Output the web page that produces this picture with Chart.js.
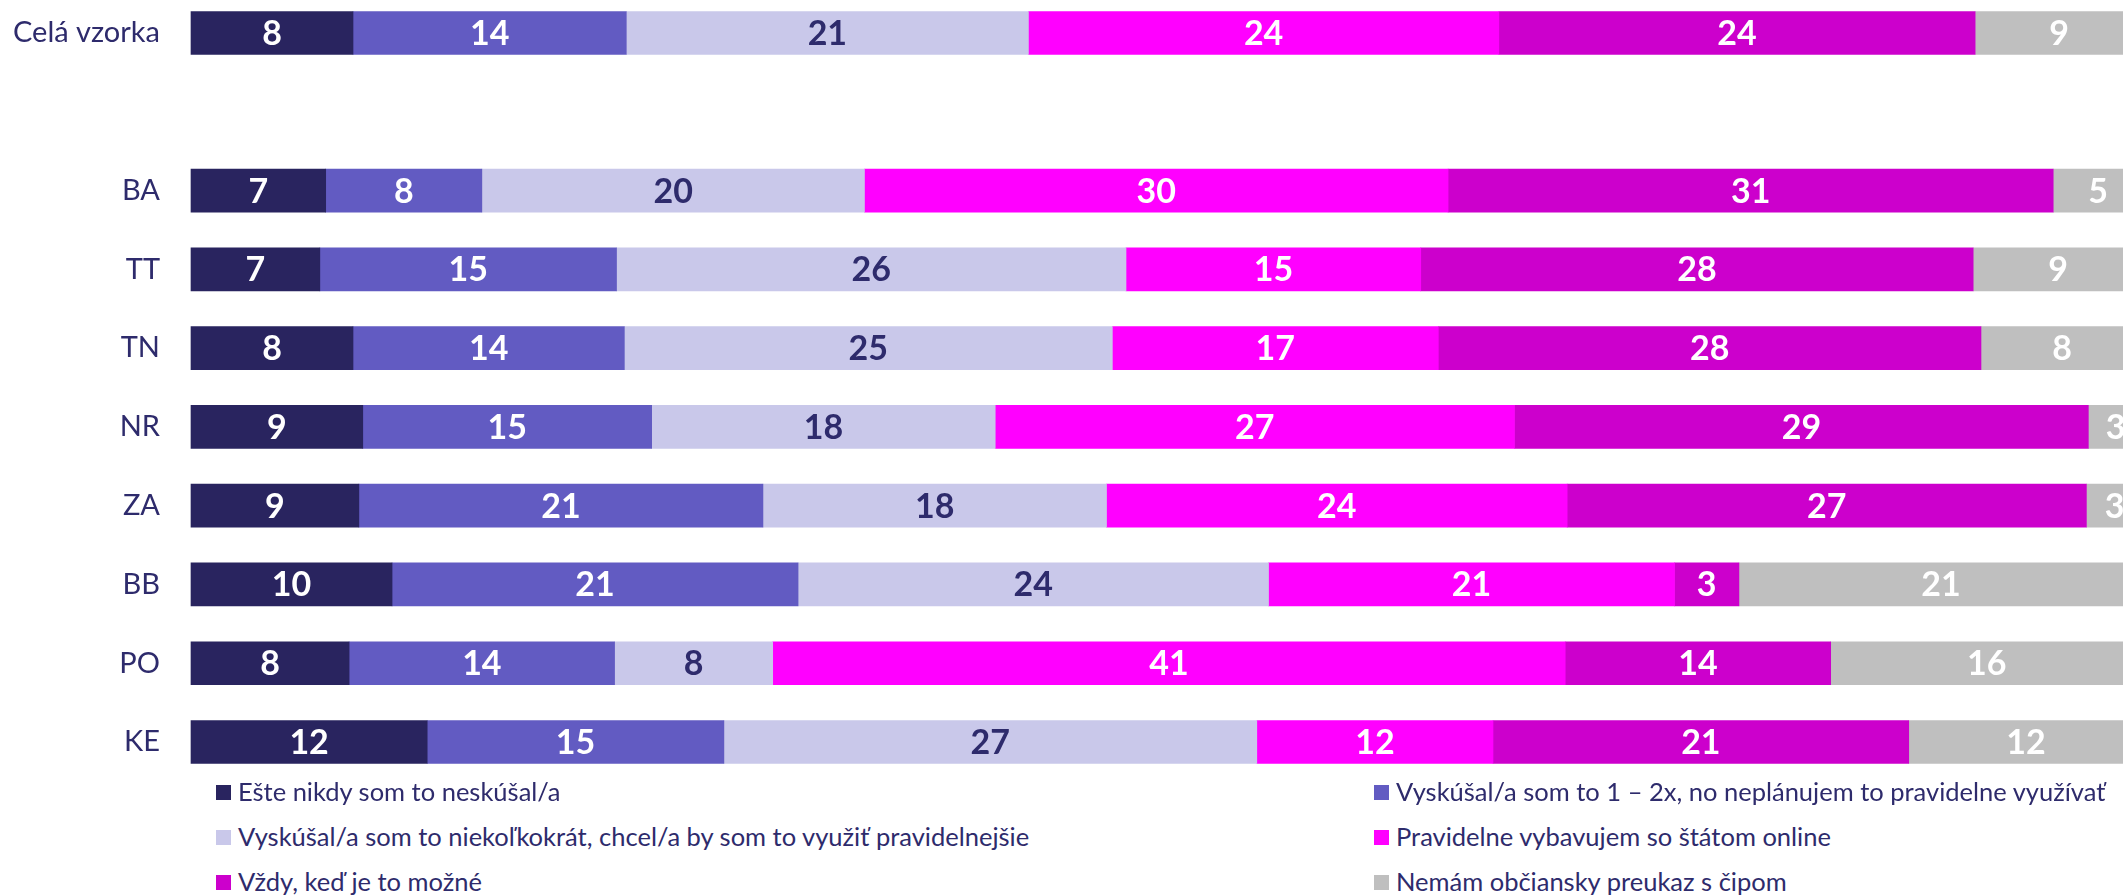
<!DOCTYPE html>
<html>
<head>
<meta charset="utf-8">
<script src="https://cdn.jsdelivr.net/npm/chart.js@4"></script>
<style>
  html, body { margin: 0; padding: 0; background: #fff; overflow: hidden; }
  body { width: 2123px; height: 895px; position: relative; font-family: Lato, "Open Sans", sans-serif; }
  #wrap { position: absolute; left: 0; top: 0; width: 2145px; height: 790px; }
  .legend-item { position: absolute; display: flex; align-items: center; color: #2e2b6c; font-size: 25.5px; white-space: nowrap; line-height: 1; }
  .legend-item span.box { width: 15px; height: 15px; margin-right: 7px; display: inline-block; }
</style>
</head>
<body>
<div id="wrap"><canvas id="chart"></canvas></div>
<div id="legend"></div>
<script>
// categories (empty slot separates the whole sample from the regions)
const categories = ["Celá vzorka", "", "BA", "TT", "TN", "NR", "ZA", "BB", "PO", "KE"];

// series values (%)
const neverTried   = [8.3,  null, 6.9,  6.6,  8.3,  8.8,  8.6,  10.3, 8.1,  12.1];
const triedOnce    = [14.0, null, 8.0,  15.2, 13.9, 14.8, 20.7, 20.8, 13.6, 15.2];
const triedSeveral = [20.6, null, 19.6, 26.1, 25.0, 17.6, 17.6, 24.1, 8.1,  27.3];
const regularly    = [24.1, null, 29.9, 15.1, 16.7, 26.6, 23.6, 20.8, 40.6, 12.1];
const always       = [24.4, null, 31.0, 28.3, 27.8, 29.4, 26.6, 3.3,  13.6, 21.3];
const noChipId     = [8.6,  null, 4.6,  8.7,  8.3,  2.8,  2.9,  20.7, 16.0, 12.0];

const seriesNames = [
    "Ešte nikdy som to neskúšal/a",
    "Vyskúšal/a som to 1 – 2x, no neplánujem to pravidelne využívať",
    "Vyskúšal/a som to niekoľkokrát, chcel/a by som to využiť pravidelnejšie",
    "Pravidelne vybavujem so štátom online",
    "Vždy, keď je to možné",
    "Nemám občiansky preukaz s čipom"
];
const seriesData = [neverTried, triedOnce, triedSeveral, regularly, always, noChipId];
const colors = ["#29245f", "#625bc2", "#c9c8ea", "#ff00ff", "#cc00cc", "#bfbfbf"];
const labelColors = ["#ffffff", "#ffffff", "#2e2b6c", "#ffffff", "#ffffff", "#ffffff"];

// Value labels in the middle of each segment
const valueLabels = {
    id: "valueLabels",
    afterDatasetsDraw(chart) {
        const ctx = chart.ctx;
        ctx.save();
        ctx.font = "bold 34px Lato, 'Open Sans', sans-serif";
        ctx.textAlign = "center";
        ctx.textBaseline = "middle";
        chart.data.datasets.forEach((ds, i) => {
            const meta = chart.getDatasetMeta(i);
            meta.data.forEach((bar, j) => {
                const v = ds.data[j];
                if (v == null) return;
                ctx.fillStyle = labelColors[i];
                ctx.fillText(Math.round(v), (bar.x + bar.base) / 2, bar.y + 1);
            });
        });
        ctx.restore();
    }
};

const chart = new Chart(document.getElementById("chart"), {
    type: "bar",
    data: {
        labels: categories,
        datasets: seriesData.map((d, i) => ({
            label: seriesNames[i],
            data: d,
            backgroundColor: colors[i],
            borderWidth: 0,
            barThickness: 43,
            clip: false
        }))
    },
    options: {
        indexAxis: "y",
        responsive: true,
        maintainAspectRatio: false,
        animation: false,
        layout: { padding: { top: 33, bottom: 48, right: 2, left: 0 } },
        scales: {
            x: {
                stacked: true, min: 0, max: 100,
                display: false,
                grid: { display: false }
            },
            y: {
                stacked: true,
                offset: false,
                grid: { display: false, drawTicks: false },
                border: { display: false },
                ticks: {
                    color: "#2e2b6c",
                    font: { family: "Lato, 'Open Sans', sans-serif", size: 29 },
                    padding: 31
                },
                afterFit(scale) {
                    scale.width = 191;
                    scale.paddingTop = 0;
                    scale.paddingBottom = 0;
                }
            }
        },
        plugins: {
            legend: { display: false },
            tooltip: { enabled: false }
        }
    },
    plugins: [valueLabels]
});

// Legend: two columns, three rows
const legend = document.getElementById("legend");
const colLeft = [216, 1374];
const rowTop = [792, 837, 882];
seriesNames.forEach((name, i) => {
    const item = document.createElement("div");
    item.className = "legend-item";
    item.style.left = colLeft[i % 2] + "px";
    item.style.top = (rowTop[Math.floor(i / 2)] - 13) + "px";
    item.style.height = "26px";
    item.innerHTML = `<span class="box" style="background:${colors[i]}"></span>${name}`;
    legend.appendChild(item);
});
</script>
</body>
</html>
